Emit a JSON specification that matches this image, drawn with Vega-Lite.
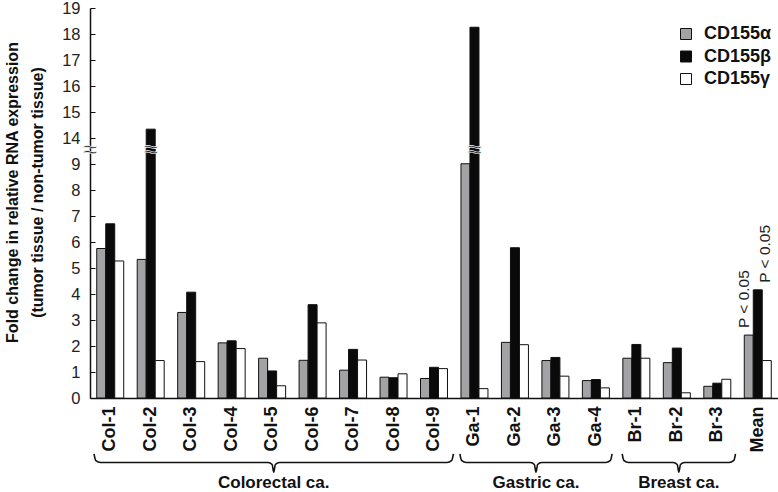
{
  "$schema": "https://vega.github.io/schema/vega-lite/v6.json",
  "width": 688,
  "height": 390,
  "autosize": {"type": "none"},
  "padding": {"left": 90, "top": 8, "right": 0, "bottom": 94},
  "config": {
    "view": {"stroke": null},
    "font": "Liberation Sans",
    "axis": {"labelFont": "Liberation Sans", "titleFont": "Liberation Sans"},
    "axisY": {"labelOverlap": false, "labelFlush": false, "labelBound": false},
    "legend": {"labelFont": "Liberation Sans"}
  },
  "datasets": {
    "bars": [
      {"sample": "Col-1", "series": "CD155α", "value": 5.75},
      {"sample": "Col-1", "series": "CD155β", "value": 6.7},
      {"sample": "Col-1", "series": "CD155γ", "value": 5.27},
      {"sample": "Col-2", "series": "CD155α", "value": 5.33},
      {"sample": "Col-2", "series": "CD155β", "value": 14.34},
      {"sample": "Col-2", "series": "CD155γ", "value": 1.44},
      {"sample": "Col-3", "series": "CD155α", "value": 3.29},
      {"sample": "Col-3", "series": "CD155β", "value": 4.07},
      {"sample": "Col-3", "series": "CD155γ", "value": 1.4},
      {"sample": "Col-4", "series": "CD155α", "value": 2.12},
      {"sample": "Col-4", "series": "CD155β", "value": 2.2},
      {"sample": "Col-4", "series": "CD155γ", "value": 1.9},
      {"sample": "Col-5", "series": "CD155α", "value": 1.53},
      {"sample": "Col-5", "series": "CD155β", "value": 1.04},
      {"sample": "Col-5", "series": "CD155γ", "value": 0.47},
      {"sample": "Col-6", "series": "CD155α", "value": 1.45},
      {"sample": "Col-6", "series": "CD155β", "value": 3.59},
      {"sample": "Col-6", "series": "CD155γ", "value": 2.89},
      {"sample": "Col-7", "series": "CD155α", "value": 1.07},
      {"sample": "Col-7", "series": "CD155β", "value": 1.87},
      {"sample": "Col-7", "series": "CD155γ", "value": 1.46},
      {"sample": "Col-8", "series": "CD155α", "value": 0.8},
      {"sample": "Col-8", "series": "CD155β", "value": 0.78},
      {"sample": "Col-8", "series": "CD155γ", "value": 0.93},
      {"sample": "Col-9", "series": "CD155α", "value": 0.75},
      {"sample": "Col-9", "series": "CD155β", "value": 1.18},
      {"sample": "Col-9", "series": "CD155γ", "value": 1.13},
      {"sample": "Ga-1", "series": "CD155α", "value": 9.05},
      {"sample": "Ga-1", "series": "CD155β", "value": 18.26},
      {"sample": "Ga-1", "series": "CD155γ", "value": 0.36},
      {"sample": "Ga-2", "series": "CD155α", "value": 2.14},
      {"sample": "Ga-2", "series": "CD155β", "value": 5.78},
      {"sample": "Ga-2", "series": "CD155γ", "value": 2.05},
      {"sample": "Ga-3", "series": "CD155α", "value": 1.44},
      {"sample": "Ga-3", "series": "CD155β", "value": 1.56},
      {"sample": "Ga-3", "series": "CD155γ", "value": 0.84},
      {"sample": "Ga-4", "series": "CD155α", "value": 0.67},
      {"sample": "Ga-4", "series": "CD155β", "value": 0.71},
      {"sample": "Ga-4", "series": "CD155γ", "value": 0.39},
      {"sample": "Br-1", "series": "CD155α", "value": 1.53},
      {"sample": "Br-1", "series": "CD155β", "value": 2.06},
      {"sample": "Br-1", "series": "CD155γ", "value": 1.53},
      {"sample": "Br-2", "series": "CD155α", "value": 1.36},
      {"sample": "Br-2", "series": "CD155β", "value": 1.92},
      {"sample": "Br-2", "series": "CD155γ", "value": 0.2},
      {"sample": "Br-3", "series": "CD155α", "value": 0.45},
      {"sample": "Br-3", "series": "CD155β", "value": 0.57},
      {"sample": "Br-3", "series": "CD155γ", "value": 0.72},
      {"sample": "Mean", "series": "CD155α", "value": 2.42},
      {"sample": "Mean", "series": "CD155β", "value": 4.16},
      {"sample": "Mean", "series": "CD155γ", "value": 1.44}
    ],
    "pval_a": [
      {"sample": "Mean", "series": "CD155α", "value": 2.42, "label": "P < 0.05"}
    ],
    "pval_b": [
      {"sample": "Mean", "series": "CD155β", "value": 4.16, "label": "P < 0.05"}
    ],
    "barbreaks": [
      {"sample": "Col-2", "series": "CD155β", "value": 11.6, "label": "≈"},
      {"sample": "Ga-1", "series": "CD155β", "value": 11.6, "label": "≈"}
    ],
    "braces": [
      {"group": "Colorectal ca.", "order": 1, "pos": 0.1, "value": -2.15},
      {"group": "Colorectal ca.", "order": 2, "pos": 0.14, "value": -2.4},
      {"group": "Colorectal ca.", "order": 3, "pos": 0.26, "value": -2.48},
      {"group": "Colorectal ca.", "order": 4, "pos": 4.4, "value": -2.48},
      {"group": "Colorectal ca.", "order": 5, "pos": 4.5, "value": -2.56},
      {"group": "Colorectal ca.", "order": 6, "pos": 4.54, "value": -2.85},
      {"group": "Colorectal ca.", "order": 7, "pos": 4.58, "value": -2.56},
      {"group": "Colorectal ca.", "order": 8, "pos": 4.68, "value": -2.48},
      {"group": "Colorectal ca.", "order": 9, "pos": 8.82, "value": -2.48},
      {"group": "Colorectal ca.", "order": 10, "pos": 8.94, "value": -2.4},
      {"group": "Colorectal ca.", "order": 11, "pos": 8.98, "value": -2.15},
      {"group": "Gastric ca.", "order": 1, "pos": 9.14, "value": -2.15},
      {"group": "Gastric ca.", "order": 2, "pos": 9.18, "value": -2.4},
      {"group": "Gastric ca.", "order": 3, "pos": 9.3, "value": -2.48},
      {"group": "Gastric ca.", "order": 4, "pos": 10.88, "value": -2.48},
      {"group": "Gastric ca.", "order": 5, "pos": 10.98, "value": -2.56},
      {"group": "Gastric ca.", "order": 6, "pos": 11.02, "value": -2.85},
      {"group": "Gastric ca.", "order": 7, "pos": 11.06, "value": -2.56},
      {"group": "Gastric ca.", "order": 8, "pos": 11.16, "value": -2.48},
      {"group": "Gastric ca.", "order": 9, "pos": 12.74, "value": -2.48},
      {"group": "Gastric ca.", "order": 10, "pos": 12.86, "value": -2.4},
      {"group": "Gastric ca.", "order": 11, "pos": 12.9, "value": -2.15},
      {"group": "Breast ca.", "order": 1, "pos": 13.15, "value": -2.15},
      {"group": "Breast ca.", "order": 2, "pos": 13.19, "value": -2.4},
      {"group": "Breast ca.", "order": 3, "pos": 13.31, "value": -2.48},
      {"group": "Breast ca.", "order": 4, "pos": 14.41, "value": -2.48},
      {"group": "Breast ca.", "order": 5, "pos": 14.51, "value": -2.56},
      {"group": "Breast ca.", "order": 6, "pos": 14.55, "value": -2.85},
      {"group": "Breast ca.", "order": 7, "pos": 14.59, "value": -2.56},
      {"group": "Breast ca.", "order": 8, "pos": 14.69, "value": -2.48},
      {"group": "Breast ca.", "order": 9, "pos": 15.79, "value": -2.48},
      {"group": "Breast ca.", "order": 10, "pos": 15.91, "value": -2.4},
      {"group": "Breast ca.", "order": 11, "pos": 15.95, "value": -2.15}
    ],
    "grouplabels": [
      {"group": "Colorectal ca.", "pos": 4.54, "value": -3.25},
      {"group": "Gastric ca.", "pos": 11.02, "value": -3.25},
      {"group": "Breast ca.", "pos": 14.55, "value": -3.25}
    ],
    "axisbreak": [
      {"pos": 0, "value": 11.6, "label": "≈"}
    ]
  },
  "layer": [
    {
      "layer": [
        {
          "data": {"name": "bars"},
          "mark": {"type": "bar", "stroke": "#111111", "strokeWidth": 1},
          "encoding": {
            "x": {
              "field": "sample", "type": "nominal",
              "sort": ["Col-1","Col-2","Col-3","Col-4","Col-5","Col-6","Col-7","Col-8","Col-9","Ga-1","Ga-2","Ga-3","Ga-4","Br-1","Br-2","Br-3","Mean"],
              "scale": {"paddingInner": 0.333, "paddingOuter": 0.1665},
              "axis": {
                "title": null, "ticks": false, "labelAngle": -90, "labelFontSize": 18, "labelFontWeight": "bold",
                "labelColor": "#111111", "labelPadding": 8, "domainColor": "#111111", "domainWidth": 1.5, "grid": false
              }
            },
            "xOffset": {"field": "series", "type": "nominal", "sort": ["CD155α","CD155β","CD155γ"], "scale": {"paddingInner": 0, "paddingOuter": 0}},
            "y": {
              "field": "value", "type": "quantitative",
              "scale": {"domain": [0, 9, 14, 19], "range": [390, 156, 130, 0], "nice": false, "zero": false},
              "axis": {
                "values": [0,1,2,3,4,5,6,7,8,9,14,15,16,17,18,19],
                "tickCount": 16,
                "labelOverlap": false, "labelFlush": false,
                "title": ["Fold change in relative RNA expression", "(tumor tissue / non-tumor tissue)"],
                "titleFontSize": 16, "titleFontWeight": "bold", "titleColor": "#111111",
                "titleLineHeight": 25, "titleX": -86, "titleY": 184, "titleBaseline": "top",
                "labelFontSize": 16.5, "labelColor": "#222222", "labelPadding": 15,
                "tickSize": -5, "tickColor": "#111111", "domainColor": "#111111", "domainWidth": 1.5, "grid": false
              }
            },
            "color": {
              "field": "series", "type": "nominal", "sort": ["CD155α","CD155β","CD155γ"],
              "scale": {"domain": ["CD155α","CD155β","CD155γ"], "range": ["#a3a3a5", "#0a0a0a", "#ffffff"]},
              "legend": {
                "title": null, "orient": "none", "legendX": 587, "legendY": 17,
                "symbolType": "square", "symbolSize": 121, "symbolStrokeColor": "#111111", "symbolStrokeWidth": 1,
                "symbolOpacity": 1,
                "labelFontSize": 18, "labelFontWeight": "bold", "labelColor": "#111111", "labelOffset": 9,
                "rowPadding": 4.5, "padding": 0
              }
            }
          }
        },
        {
          "mark": {"type": "rule", "color": "#111111", "strokeWidth": 1},
          "encoding": {
            "y": {"datum": 1, "type": "quantitative",
                  "scale": {"domain": [0, 9, 14, 19], "range": [390, 156, 130, 0], "nice": false, "zero": false}}
          }
        },
        {
          "data": {"name": "barbreaks"},
          "mark": {"type": "text", "fontSize": 26, "color": "#222222", "baseline": "middle", "align": "center", "stroke": "#ffffff", "strokeWidth": 0.6},
          "encoding": {
            "x": {"field": "sample", "type": "nominal", "sort": ["Col-1","Col-2","Col-3","Col-4","Col-5","Col-6","Col-7","Col-8","Col-9","Ga-1","Ga-2","Ga-3","Ga-4","Br-1","Br-2","Br-3","Mean"]},
            "xOffset": {"field": "series", "type": "nominal", "sort": ["CD155α","CD155β","CD155γ"]},
            "y": {"field": "value", "type": "quantitative", "scale": {"domain": [0, 9, 14, 19], "range": [390, 156, 130, 0], "nice": false, "zero": false}},
            "text": {"field": "label"}
          }
        },
        {
          "data": {"name": "pval_a"},
          "mark": {"type": "text", "fontSize": 15.5, "color": "#222222", "angle": 270, "align": "left", "baseline": "alphabetic", "dx": 7},
          "encoding": {
            "x": {"field": "sample", "type": "nominal", "sort": ["Col-1","Col-2","Col-3","Col-4","Col-5","Col-6","Col-7","Col-8","Col-9","Ga-1","Ga-2","Ga-3","Ga-4","Br-1","Br-2","Br-3","Mean"]},
            "xOffset": {"field": "series", "type": "nominal", "sort": ["CD155α","CD155β","CD155γ"]},
            "y": {"field": "value", "type": "quantitative", "scale": {"domain": [0, 9, 14, 19], "range": [390, 156, 130, 0], "nice": false, "zero": false}},
            "text": {"field": "label"}
          }
        },
        {
          "data": {"name": "pval_b"},
          "mark": {"type": "text", "fontSize": 15.5, "color": "#222222", "angle": 270, "align": "left", "baseline": "top", "dx": 7},
          "encoding": {
            "x": {"field": "sample", "type": "nominal", "sort": ["Col-1","Col-2","Col-3","Col-4","Col-5","Col-6","Col-7","Col-8","Col-9","Ga-1","Ga-2","Ga-3","Ga-4","Br-1","Br-2","Br-3","Mean"]},
            "xOffset": {"field": "series", "type": "nominal", "sort": ["CD155α","CD155β","CD155γ"]},
            "y": {"field": "value", "type": "quantitative", "scale": {"domain": [0, 9, 14, 19], "range": [390, 156, 130, 0], "nice": false, "zero": false}},
            "text": {"field": "label"}
          }
        }
      ]
    },
    {
      "layer": [
        {
          "data": {"name": "braces"},
          "mark": {"type": "line", "color": "#111111", "strokeWidth": 1.6, "interpolate": "monotone"},
          "encoding": {
            "x": {"field": "pos", "type": "quantitative", "scale": {"domain": [0, 17], "nice": false, "zero": false}, "axis": null},
            "y": {"field": "value", "type": "quantitative", "scale": {"domain": [0, 9, 14, 19], "range": [390, 156, 130, 0], "nice": false, "zero": false}},
            "detail": {"field": "group"},
            "order": {"field": "order", "type": "quantitative"}
          }
        },
        {
          "data": {"name": "grouplabels"},
          "mark": {"type": "text", "fontSize": 17, "fontWeight": "bold", "color": "#111111", "baseline": "middle", "align": "center"},
          "encoding": {
            "x": {"field": "pos", "type": "quantitative", "scale": {"domain": [0, 17], "nice": false, "zero": false}, "axis": null},
            "y": {"field": "value", "type": "quantitative", "scale": {"domain": [0, 9, 14, 19], "range": [390, 156, 130, 0], "nice": false, "zero": false}},
            "text": {"field": "group"}
          }
        },
        {
          "data": {"name": "axisbreak"},
          "mark": {"type": "text", "fontSize": 26, "color": "#222222", "baseline": "middle", "align": "center", "stroke": "#ffffff", "strokeWidth": 0.6},
          "encoding": {
            "x": {"field": "pos", "type": "quantitative", "scale": {"domain": [0, 17], "nice": false, "zero": false}, "axis": null},
            "y": {"field": "value", "type": "quantitative", "scale": {"domain": [0, 9, 14, 19], "range": [390, 156, 130, 0], "nice": false, "zero": false}},
            "text": {"field": "label"}
          }
        }
      ]
    }
  ],
  "resolve": {"scale": {"x": "independent"}, "axis": {"x": "independent"}}
}
